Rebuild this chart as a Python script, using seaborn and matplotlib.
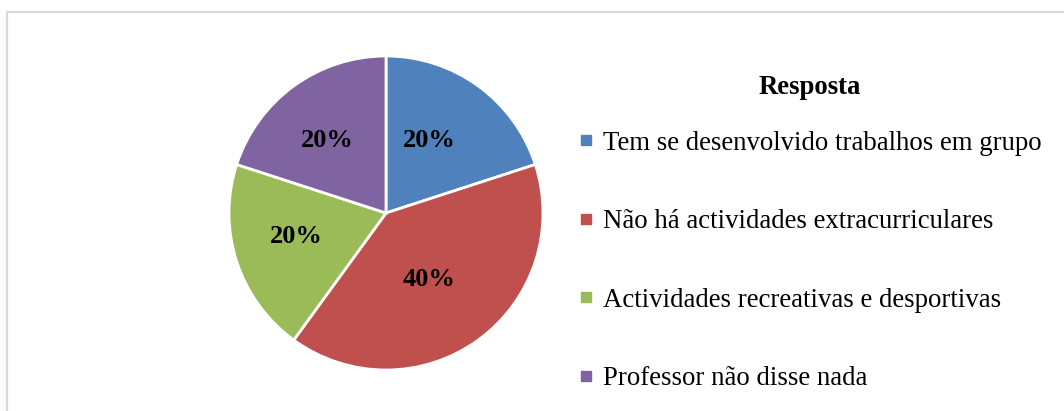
import matplotlib
matplotlib.use("Agg")
import matplotlib.pyplot as plt
from matplotlib.lines import Line2D
import seaborn as sns

categories = ["Tem se desenvolvido trabalhos em grupo",
              "Não há actividades extracurriculares",
              "Actividades recreativas e desportivas",
              "Professor não disse nada"]
values = [20, 40, 20, 20]
legend_title = "Resposta"
colors = sns.color_palette(["#4F81BD", "#C0504D", "#9BBB59", "#8064A2"])

sns.set_theme(style="white")
plt.rcParams['font.family'] = ['Liberation Serif', 'DejaVu Serif']
plt.rcParams['text.color'] = 'black'

W, H = 1064, 411
fig = plt.figure(figsize=(W / 100, H / 100), dpi=100)
fig.patch.set_facecolor("white")

cx, cy, r = 386, 213, 157
ax = fig.add_axes([(cx - r) / W, (H - cy - r) / H, 2 * r / W, 2 * r / H])
wedges, texts = ax.pie(values, colors=colors, startangle=90, counterclock=False,
                       labels=[f"{v}%" for v in values], labeldistance=0.55,
                       wedgeprops=dict(edgecolor="white", linewidth=2),
                       textprops=dict(fontsize=19, fontweight="bold", color="black",
                                      ha="center", va="center"))
# nudge labels slightly, as in the reference
for t in texts:
    x, y = t.get_position()
    t.set_position((x - 0.05, y + 0.02))
ax.set_xlim(-1, 1)
ax.set_ylim(-1, 1)
ax.set_aspect("equal")
ax.axis("off")

handles = [Line2D([], [], marker="s", linestyle="none", markersize=7,
                  markerfacecolor=c, markeredgecolor=c) for c in colors]
leg = fig.legend(handles, categories, title=legend_title, loc="upper left",
                 bbox_to_anchor=(578 / W, 1 - 75 / H), frameon=False,
                 prop=dict(size=19.3), title_fontproperties=dict(size=19.3, weight="bold"),
                 labelspacing=2.0, handlelength=0.6, handletextpad=0.35,
                 borderpad=0, borderaxespad=0)
leg._legend_box.sep = 22

# figure border (top and left)
border = "#d9d9d9"
fig.add_artist(Line2D([7 / W, 1], [1 - 12 / H, 1 - 12 / H], transform=fig.transFigure,
                      color=border, linewidth=1.6))
fig.add_artist(Line2D([7 / W, 7 / W], [0, 1 - 12 / H], transform=fig.transFigure,
                      color=border, linewidth=1.6))

fig.savefig("out.png", dpi=100, facecolor="white")
